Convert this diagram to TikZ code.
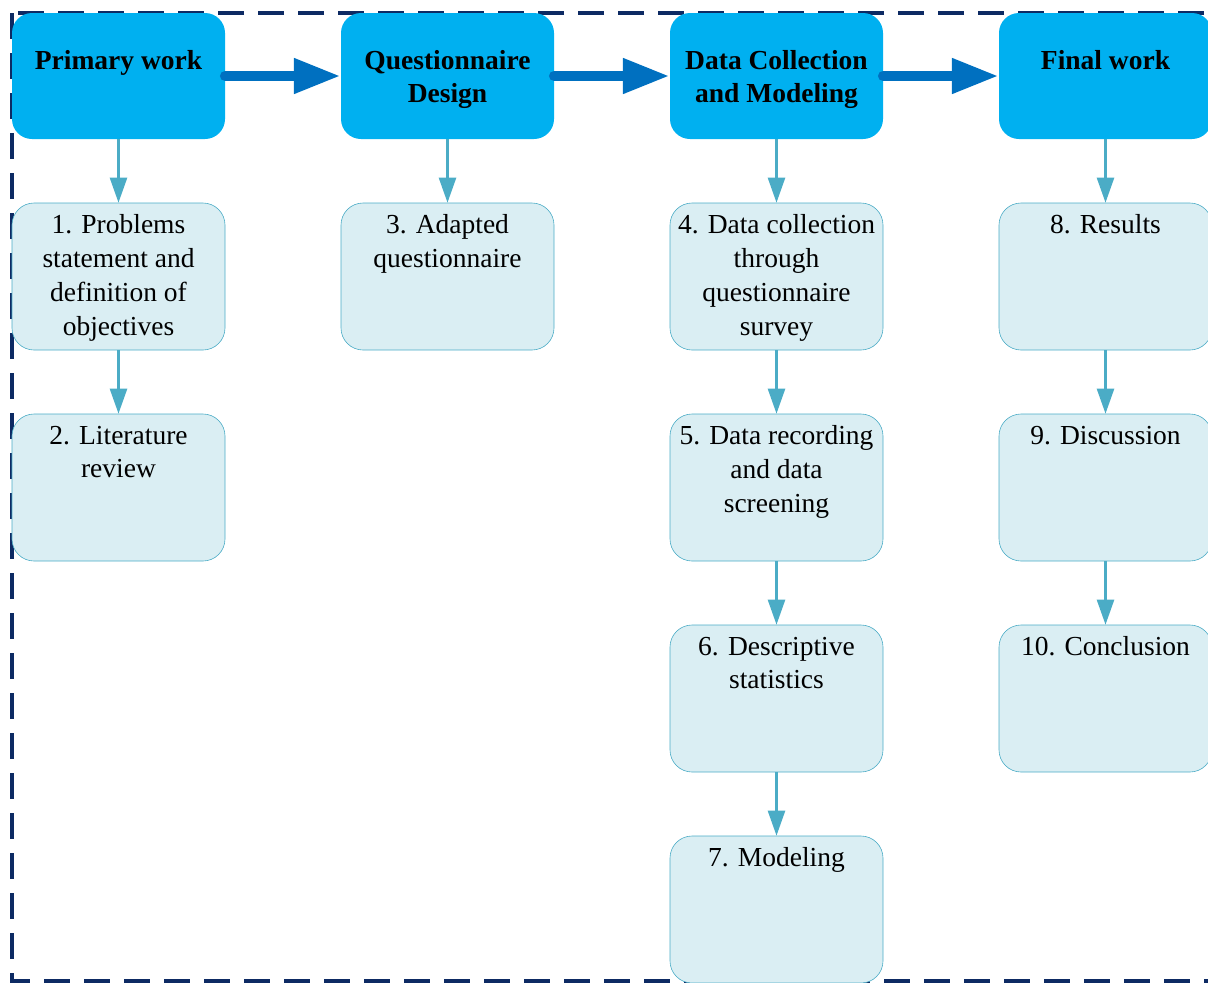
\documentclass[tikz,border=0pt]{standalone}
\usepackage{fontspec}
\setmainfont{Liberation Serif}
\usetikzlibrary{arrows.meta}
\definecolor{headfill}{HTML}{00B0F0}
\definecolor{thickarr}{HTML}{0070C0}
\definecolor{subfill}{HTML}{DAEEF3}
\definecolor{subdraw}{HTML}{4BACC6}
\definecolor{framecol}{HTML}{0D2A63}
\tikzset{
  headbox/.style={fill=headfill, draw=none, rounded corners=20pt, minimum width=213pt, minimum height=126pt, inner sep=0pt},
  subbox/.style={fill=subfill, draw=subdraw, line width=0.6pt, rounded corners=22pt, minimum width=213pt, minimum height=147pt, inner sep=0pt},
  headtxt/.style={anchor=north, inner sep=0pt, align=center, font=\fontsize{27.5}{33.5}\selectfont\bfseries},
  subtxt/.style={anchor=north, inner sep=0pt, align=center, font=\fontsize{27.5}{33.8}\selectfont},
  bigarrow/.style={draw=thickarr, line width=10.5pt, line cap=round, -{Triangle[length=47pt,width=33pt]}},
  smallarrow/.style={draw=subdraw, line width=2.5pt, -{Triangle[length=25pt,width=17pt]}},
  frame/.style={draw=framecol, line width=3.5pt, dash pattern=on 26pt off 14pt}
}
\begin{document}
\begin{tikzpicture}[x=1pt,y=-1pt]
\useasboundingbox (0,0) rectangle (1208,983);
\draw[frame] (12,13) rectangle (1240,981);
% headers
\node[headbox] (h1) at (118.5,76) {};
\node[headbox] (h2) at (447.5,76) {};
\node[headbox] (h3) at (776.5,76) {};
\node[headbox] (h4) at (1105.5,76) {};
\node[headtxt] (h1t) at ([yshift=-37pt]h1.north) {Primary work};
\node[headtxt] (h2t) at ([yshift=-37pt]h2.north) {Questionnaire\\Design};
\node[headtxt] (h3t) at ([yshift=-37pt]h3.north) {Data Collection\\and Modeling};
\node[headtxt] (h4t) at ([yshift=-37pt]h4.north) {Final work};
% sub boxes
\node[subbox] (s1) at (118.5,276.5) {};
\node[subbox] (s2) at (118.5,487.5) {};
\node[subbox] (s3) at (447.5,276.5) {};
\node[subbox] (s4) at (776.5,276.5) {};
\node[subbox] (s5) at (776.5,487.5) {};
\node[subbox] (s6) at (776.5,698.5) {};
\node[subbox] (s7) at (776.5,909.5) {};
\node[subbox] (s8) at (1105.5,276.5) {};
\node[subbox] (s9) at (1105.5,487.5) {};
\node[subbox] (s10) at (1105.5,698.5) {};
\node[subtxt] (s1t) at ([yshift=-12pt]s1.north) {1. Problems\\statement and\\definition of\\objectives};
\node[subtxt] (s2t) at ([yshift=-12pt]s2.north) {2. Literature\\review};
\node[subtxt] (s3t) at ([yshift=-12pt]s3.north) {3. Adapted\\questionnaire};
\node[subtxt] (s4t) at ([yshift=-12pt]s4.north) {4. Data collection\\through\\questionnaire\\survey};
\node[subtxt] (s5t) at ([yshift=-12pt]s5.north) {5. Data recording\\and data\\screening};
\node[subtxt] (s6t) at ([yshift=-12pt]s6.north) {6. Descriptive\\statistics};
\node[subtxt] (s7t) at ([yshift=-12pt]s7.north) {7. Modeling};
\node[subtxt] (s8t) at ([yshift=-12pt]s8.north) {8. Results};
\node[subtxt] (s9t) at ([yshift=-12pt]s9.north) {9. Discussion};
\node[subtxt] (s10t) at ([yshift=-12pt]s10.north) {10. Conclusion};
% thick arrows
\draw[bigarrow] (h1.east) -- (h2.west);
\draw[bigarrow] (h2.east) -- (h3.west);
\draw[bigarrow] (h3.east) -- (h4.west);
% thin arrows
\draw[smallarrow] (h1.south) -- (s1.north);
\draw[smallarrow] (s1.south) -- (s2.north);
\draw[smallarrow] (h2.south) -- (s3.north);
\draw[smallarrow] (h3.south) -- (s4.north);
\draw[smallarrow] (s4.south) -- (s5.north);
\draw[smallarrow] (s5.south) -- (s6.north);
\draw[smallarrow] (s6.south) -- (s7.north);
\draw[smallarrow] (h4.south) -- (s8.north);
\draw[smallarrow] (s8.south) -- (s9.north);
\draw[smallarrow] (s9.south) -- (s10.north);
\end{tikzpicture}
\end{document}
